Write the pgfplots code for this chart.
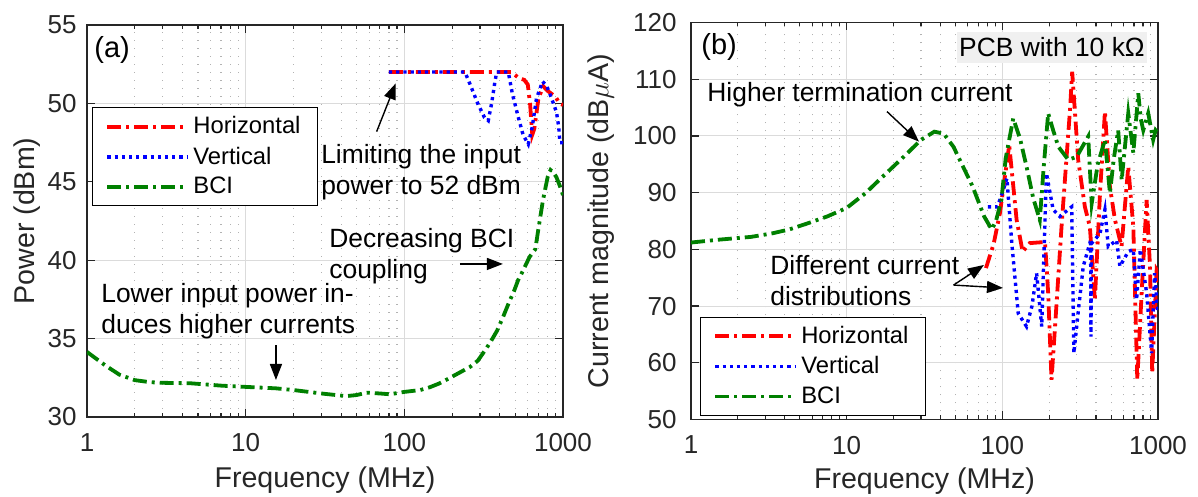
\documentclass[border=0pt]{standalone}
\usepackage{fontspec}
\setmainfont{Liberation Sans}
\usepackage{pgfplots}
\pgfplotsset{compat=1.18}
\usetikzlibrary{arrows.meta}
\definecolor{axgray}{HTML}{262626}
\definecolor{boxgray}{HTML}{F0F0F0}
\definecolor{mgreen}{rgb}{0,0.5,0}
\tikzset{
 hor/.style={red, line width=1.9pt, dash pattern=on 7pt off 2.5pt on 1.5pt off 2.5pt},
 ver/.style={blue, line width=1.7pt, dash pattern=on 1.6pt off 2pt},
 bci/.style={mgreen, line width=1.9pt, dash pattern=on 7pt off 2.5pt on 1.5pt off 2.5pt},
 arr/.style={-{Triangle[length=8pt,width=6pt]}, line width=0.7pt, black},
}
\pgfplotsset{
  every axis/.append style={
  scale only axis, 
  axis line style={axgray, line width=0.6pt},
  tick style={axgray, line width=0.6pt},
  major tick length=4pt, minor tick length=2pt,
  tick align=inside,
  xmajorgrids, ymajorgrids, xminorgrids,
  major grid style={draw=black!14, line width=0.5pt},
  minor grid style={draw=black!30, line width=0.6pt, dash pattern=on 0.7pt off 3.3pt},
  ticklabel style={font=\fontsize{13}{15}\selectfont, text=axgray},
  label style={font=\fontsize{14.3}{16}\selectfont, text=axgray},
  xticklabel style={yshift=-4.7pt},
  legend cell align=left,
  legend style={draw=black, line width=0.6pt, fill=white, font=\fontsize{11.9}{14}\selectfont, anchor=north west, inner xsep=6.5pt, inner ysep=2.5pt, row sep=1pt},
 },
}
\begin{document}
\begin{tikzpicture}[font=\fontsize{13.2}{15.5}\selectfont]
\path[use as bounding box] (0,0) rectangle (599pt,248.5pt);
% ---------------- panel (a)
\begin{axis}[at={(43.5pt,40pt)}, anchor=south west, width=238pt, height=196pt,
  xmode=log, xmin=1, xmax=1000,
  xtick={1,10,100,1000}, xticklabels={1,10,100,1000},
  ymin=30, ymax=55, ytick={30,35,40,45,50,55},
  yticklabels={30,35,40,45,50,55},
  yticklabel style={xshift=-1.7pt},
  xlabel={Frequency (MHz)}, ylabel={Power (dBm)},
  xlabel style={at={(axis description cs:0.5,-0.161)}, anchor=center},
  ylabel style={at={(axis description cs:-0.126,0.5)}, anchor=center},
  legend style={at={(0.0105,0.791)}},
  legend image code/.code={\draw[#1] (0pt,0pt) -- (40pt,0pt);},
]
\addplot[hor] coordinates {(80,52) (470,52) (500,51.8) (530,51.6) (570,51.5) (600,51.2) (620,50.0) (640,48.0) (660,48.4) (700,50.3) (750,51.1) (800,50.8) (850,50.6) (900,50.4) (950,50.0) (1000,49.9)};
\addlegendentry{Horizontal}
\addplot[ver] coordinates {(80,52) (241,52) (260,51.2) (290,50.0) (320,49.1) (338,48.9) (355,50.0) (370,51.2) (382,52) (452,52) (480,50.6) (520,49.2) (560,48.0) (604,47.4) (640,48.5) (680,50.3) (743,51.4) (790,51.1) (827,50.6) (870,50.0) (911,49.4) (940,48.5) (956,47.5) (1000,47.5)};
\addlegendentry{Vertical}
\addplot[bci] coordinates {(1,34.15) (1.3,33.3) (1.6,32.7) (2,32.35) (2.5,32.22) (3,32.18) (4.5,32.15) (7,32.0) (10,31.92) (15.4,31.83) (20,31.72) (30,31.5) (43,31.33) (50,31.4) (58,31.55) (70,31.5) (81,31.45) (100,31.6) (126,31.72) (145,31.9) (167,32.15) (190,32.45) (220,32.8) (260,33.2) (291,33.6) (325,34.3) (350,34.8) (384,35.5) (420,36.4) (454,37.25) (490,38.0) (520,38.7) (570,39.5) (615,40.2) (669,40.7) (700,42.0) (747,43.8) (800,45.3) (835,45.75) (870,45.6) (908,45.3) (950,44.8) (1000,44.15)};
\addlegendentry{BCI}
\node[anchor=west, inner sep=0pt, font=\fontsize{14.5}{16}\selectfont] at (axis cs:1.107,53.4) {(a)};
\node[anchor=north west, align=left, inner sep=0pt] at (axis cs:29.8,47.41) {Limiting the input\\power to 52 dBm};
\draw[arr] (axis cs:66.9,48.2) -- (axis cs:88.3,51.28);
\node[anchor=north west, align=left, inner sep=0pt] at (axis cs:33.5,42.05) {Decreasing BCI\\coupling};
\draw[arr] (axis cs:223.9,39.76) -- (axis cs:418,39.76);
\node[anchor=north west, align=left, inner sep=0pt] at (axis cs:1.225,38.55) {Lower input power in-\\duces higher currents};
\draw[arr] (axis cs:15.52,34.59) -- (axis cs:15.52,32.36);
\end{axis}
% ---------------- panel (b)
\begin{axis}[at={(345.5pt,38.75pt)}, anchor=south west, width=233.5pt, height=198.5pt,
  xmode=log, xmin=1, xmax=1000,
  xtick={1,10,100,1000}, xticklabels={1,10,100,1000},
  ymin=50, ymax=120, ytick={50,60,70,80,90,100,110,120},
  yticklabels={50,60,70,80,90,100,110,120},
  yticklabel style={xshift=-3.7pt},
  xlabel={Frequency (MHz)}, ylabel={Current magnitude (dB$\mu$A)},
  xlabel style={at={(axis description cs:0.5,-0.155)}, anchor=center},
  ylabel style={at={(axis description cs:-0.193,0.5)}, anchor=center},
  legend style={at={(0.019,0.259)}},
  legend image code/.code={\draw[#1] (0pt,0pt) -- (40pt,0pt);},
]
\addplot[hor] coordinates {(78.5,76.7) (88,81) (96.5,86.4) (110.7,98.4) (123.5,85.2) (135,79.6) (150,81.1) (188,81.3) (197,72.3) (207,57.0) (220,68) (240,84) (272,104.6) (281,111.3) (307,95.8) (339,87.5) (365,84) (393,71.1) (424,89.9) (456,104.3) (491,91) (529,85.2) (583,80.5) (644,94.6) (694,84) (736,57) (785,72.3) (845,88.7) (888,77) (918,58.2) (980,76.4) (1000,76)};
\addlegendentry{Horizontal}
\addplot[ver] coordinates {(80.8,87.5) (93,87.5) (100,90) (107,92.5) (115,81.1) (126.5,68.7) (143,66.4) (155,70) (166,75.8) (179,66.4) (192,93.4) (212,87) (234,85.8) (279,87.5) (288,61.7) (310,70) (331,77) (365,81.1) (369,81) (371,64.6) (373,81) (384,81.4) (424,82.8) (456,87) (479,80.5) (542,81.6) (569,77) (644,79.6) (694,80) (728,71.1) (770,80) (845,72.3) (910,61.7) (950,75.8) (1000,68.7)};
\addlegendentry{Vertical}
\addplot[bci] coordinates {(1,81.2) (1.5,81.7) (2.43,82.2) (3.3,82.8) (4.27,83.5) (5.5,84.5) (7.5,85.8) (10,87.3) (13.2,89.9) (17,92.8) (23.3,96.35) (30,99.3) (36.6,100.75) (42,100.4) (48.5,98.1) (55,95.0) (64.5,91.05) (76.4,85.8) (85.5,83.5) (91,85) (98.6,88.7) (105,96) (117.5,103.1) (130,99.5) (143,94.6) (158,89) (174,85.2) (185,95) (197,104) (212,101) (229,98.1) (265,95.8) (300,96.3) (356,99.9) (375,88.1) (410,95) (456,99.3) (491,89.9) (520,96) (555,101) (584,92.2) (644,104) (694,97) (747,107.5) (775,103) (804,101) (865,104) (931,99.3) (965,101) (1000,100.5)};
\addlegendentry{BCI}
\node[anchor=west, inner sep=0pt, font=\fontsize{14.5}{16}\selectfont] at (axis cs:1.159,115.7) {(b)};
\node[fill=boxgray, minimum width=95pt, minimum height=15.5pt, inner sep=0pt] at (axis cs:208.3,115.6) {PCB with 10 kΩ};
\node[anchor=north west, align=left, inner sep=0pt] at (axis cs:1.267,109.5) {Higher termination current};
\draw[arr] (axis cs:18.15,104.3) -- (axis cs:29.14,99.0);
\node[anchor=north west, align=left, inner sep=0pt] at (axis cs:3.217,79.0) {Different current\\distributions};
\draw[arr] (axis cs:48.6,73.7) -- (axis cs:76.2,77.25);
\draw[arr] (axis cs:48.6,73.7) -- (axis cs:100.9,73.2);
\end{axis}
\end{tikzpicture}
\end{document}
